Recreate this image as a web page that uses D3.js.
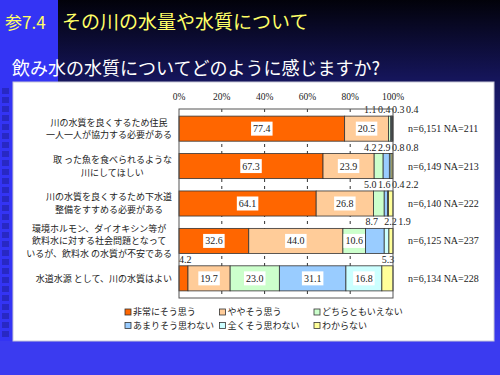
<!DOCTYPE html>
<html>
<head>
<meta charset="utf-8">
<script src="https://cdn.jsdelivr.net/npm/d3@7"></script>
<style>
  body { margin: 0; background: #000; }
  svg { display: block; }
</style>
</head>
<body>
<svg id="chart" width="500" height="375"></svg>
<script>
const categories = [
  ["川の水質を良くするため住民", "一人一人が協力する必要がある"],
  ["取 った魚を食べられるような", "川にしてほしい"],
  ["川の水質を良くするため下水道", "整備をすすめる必要がある"],
  ["環境ホルモン、ダイオキシン等が", "飲料水に対する社会問題となって", "いるが、飲料水 の水質が不安である"],
  ["水道水源 として、川の水質はよい"]
];
const responses = ["非常にそう思う", "ややそう思う", "どちらともいえない",
                   "あまりそう思わない", "全くそう思わない", "わからない"];
const shares = [
  [77.4, 20.5, 1.1, 0.4, 0.3, 0.4],
  [67.3, 23.9, 4.2, 2.9, 0.8, 0.8],
  [64.1, 26.8, 5.0, 1.6, 0.4, 2.2],
  [32.6, 44.0, 10.6, 8.7, 2.2, 1.9],
  [4.2, 19.7, 23.0, 31.1, 16.8, 5.3]
];
const sampleNotes = ["n=6,151 NA=211", "n=6,149 NA=213", "n=6,140 NA=222",
                     "n=6,125 NA=237", "n=6,134 NA=228"];
const ticks = [0, 20, 40, 60, 80, 100];
const colors = ["#ff6600", "#ffcc99", "#ccffcc", "#99ccff", "#ccffff", "#ffff99"];

const svg = d3.select("#chart");
const jp = "'Noto Sans CJK JP', sans-serif";
const num = "'Liberation Serif', serif";

// background
const defs = svg.append("defs");
const grad = defs.append("linearGradient").attr("id", "bg")
  .attr("x1", 0).attr("y1", 0).attr("x2", 0).attr("y2", 1);
grad.append("stop").attr("offset", "0%").attr("stop-color", "#02020a");
grad.append("stop").attr("offset", "22%").attr("stop-color", "#16165e");
grad.append("stop").attr("offset", "90%").attr("stop-color", "#3a3aee");
grad.append("stop").attr("offset", "100%").attr("stop-color", "#3a3af0");
svg.append("rect").attr("width", 500).attr("height", 375).attr("fill", "url(#bg)");
svg.append("rect").attr("x", 0).attr("y", 0).attr("width", 58).attr("height", 345).attr("fill", "#3434f4");
svg.append("rect").attr("x", 0).attr("y", 341).attr("width", 500).attr("height", 34).attr("fill", "#3b3bf0");
// square pattern on left strip
for (let yy = 88; yy < 340; yy += 9) {
  svg.append("rect").attr("x", 2).attr("y", yy).attr("width", 7).attr("height", 6)
    .attr("fill", "#2626b8").attr("opacity", 0.8);
}

svg.append("text").attr("x", 5).attr("y", 29)
  .attr("font-family", jp).attr("font-size", 17)
  .attr("fill", "#ffff66").text("参7.4");
svg.append("text").attr("x", 62).attr("y", 29)
  .attr("font-family", jp).attr("font-size", 19)
  .attr("fill", "#ffff66").text("その川の水量や水質について");
svg.append("text").attr("x", 12).attr("y", 75)
  .attr("font-family", jp).attr("font-size", 18)
  .attr("fill", "#ffffff").text("飲み水の水質についてどのように感じますか?");

// white panel
svg.append("rect").attr("x", 13).attr("y", 82).attr("width", 481).attr("height", 259)
  .attr("fill", "#ffffff").attr("stroke", "#c8c8d8").attr("stroke-width", 1);

const x = d3.scaleLinear().domain([0, 100]).range([179, 393]);
const y = d3.scaleBand().domain(d3.range(categories.length)).range([109, 298])
  .paddingInner(0.33).paddingOuter(0.19);

// dashed gridlines
svg.append("g").selectAll("line").data(ticks.slice(1, -1)).join("line")
  .attr("x1", d => x(d)).attr("x2", d => x(d))
  .attr("y1", 109).attr("y2", 298)
  .attr("stroke", "#333").attr("stroke-width", 1).attr("stroke-dasharray", "3,4");

// tick labels
svg.append("g").selectAll("text").data(ticks).join("text")
  .attr("x", d => x(d)).attr("y", 100)
  .attr("text-anchor", "middle")
  .attr("font-family", num).attr("font-size", 9.5).attr("fill", "#222")
  .text(d => d + "%");

// bars
const rows = shares.map((vals, i) => {
  let acc = 0;
  return vals.map((v, j) => {
    const seg = { row: i, k: j, v, x0: acc, x1: acc + v };
    acc += v;
    return seg;
  });
});

rows.forEach((segs, i) => {
  const g = svg.append("g");
  g.selectAll("rect").data(segs).join("rect")
    .attr("x", d => x(d.x0))
    .attr("y", y(i))
    .attr("width", d => Math.max(0, x(Math.min(d.x1, 100)) - x(d.x0)))
    .attr("height", y.bandwidth())
    .attr("fill", d => colors[d.k])
    .attr("stroke", "#333").attr("stroke-width", 0.8);

  // inside labels
  segs.filter(d => d.v >= 10).forEach(d => {
    const cx = (x(d.x0) + x(d.x1)) / 2, cy = y(i) + y.bandwidth() / 2;
    const t = g.append("text").attr("x", cx).attr("y", cy + 3.5)
      .attr("text-anchor", "middle").attr("font-family", num).attr("font-size", 10)
      .attr("fill", "#222").text(d.v.toFixed(1));
    const w = t.node().getComputedTextLength();
    g.insert("rect", function() { return t.node(); })
      .attr("x", cx - w / 2 - 2).attr("y", cy - 7).attr("width", w + 4).attr("height", 14)
      .attr("fill", "#fff");
  });

  // small labels above the bar
  const small = segs.filter(d => d.v < 10);
  const ty = y(i) - 3;
  const items = small.map(d => {
    const t = g.append("text").attr("y", ty).attr("font-family", num).attr("font-size", 10)
      .attr("fill", "#222").text(d.v.toFixed(1));
    return { d, t, w: t.node().getComputedTextLength() };
  });
  let prev = -Infinity;
  items.forEach(it => { it.px = Math.max(x(it.d.x0), prev); prev = it.px + it.w + 1.5; });
  if (items.length > 1) {
    const over = prev - 420;
    if (over > 0) items.forEach(it => it.px -= over);
  }
  items.forEach(it => it.t.attr("x", it.px));

  // sample size note
  svg.append("text").attr("x", 408).attr("y", y(i) + y.bandwidth() / 2 + 3.5)
    .attr("font-family", num).attr("font-size", 10).attr("fill", "#222")
    .text(sampleNotes[i]);
});

// plot border
svg.append("rect").attr("x", 179).attr("y", 109).attr("width", 214).attr("height", 189)
  .attr("fill", "none").attr("stroke", "#555").attr("stroke-width", 1);

// category labels, block right-aligned, lines centred
categories.forEach((lines, i) => {
  const cy = y(i) + y.bandwidth() / 2;
  const lh = 12.5;
  const g = svg.append("g");
  const ts = lines.map((s, k) => g.append("text")
    .attr("y", cy + (k - (lines.length - 1) / 2) * lh + 3.2)
    .attr("font-family", jp).attr("font-size", 9).attr("fill", "#222")
    .attr("text-anchor", "middle").text(s));
  const maxW = d3.max(ts, t => t.node().getComputedTextLength());
  ts.forEach(t => t.attr("x", 172 - maxW / 2));
});

// legend
const lg = svg.append("g");
responses.forEach((r, k) => {
  const lx = 128 + (k % 3) * 94.5, ly = 312 + Math.floor(k / 3) * 13.5;
  lg.append("rect").attr("x", lx - 3).attr("y", ly - 3).attr("width", 6).attr("height", 6)
    .attr("fill", colors[k]).attr("stroke", "#333").attr("stroke-width", 0.8);
  lg.append("text").attr("x", lx + 5).attr("y", ly + 3.2)
    .attr("font-family", jp).attr("font-size", 9).attr("fill", "#222").text(r);
});
</script>
</body>
</html>
